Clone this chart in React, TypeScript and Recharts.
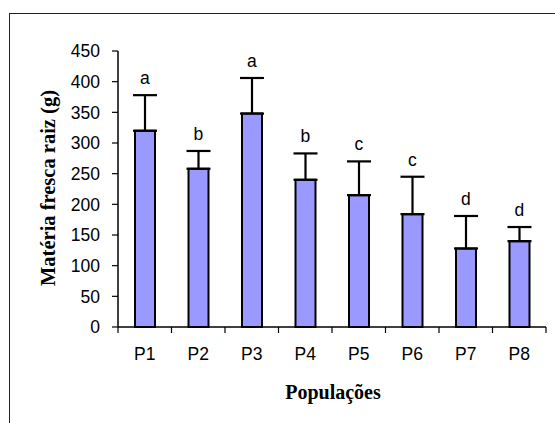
import {
  Bar,
  ComposedChart,
  ErrorBar,
  LabelList,
  Line,
  XAxis,
  YAxis,
} from "recharts";

const CATS = ["P1", "P2", "P3", "P4", "P5", "P6", "P7", "P8"];
const MEANS = [320, 258, 348, 240, 215, 184, 128, 140];
const ERRS = [58, 29, 58, 43, 55, 61, 53, 23];
const LETTERS = ["a", "b", "a", "b", "c", "c", "d", "d"];
const Y_TICKS = [0, 50, 100, 150, 200, 250, 300, 350, 400, 450];

const W = 547;
const H = 415;
const MARGIN = { top: 43, right: 9, left: 50, bottom: 26 };
const Y_AXIS_W = 60;
const X_AXIS_H = 70;
const PLOT_W = W - MARGIN.left - Y_AXIS_W - MARGIN.right;
const BAND = PLOT_W / CATS.length;

const X_TICK_GAP = 21;
const TICK_LEN = 6;

const sans = "'Liberation Sans', Arial, sans-serif";
const serif = "'Liberation Serif', 'Times New Roman', serif";

const data = CATS.map((c, i) => ({
  pop: c,
  mean: MEANS[i],
  err: [0, ERRS[i]],
  top: MEANS[i] + ERRS[i],
  letter: LETTERS[i],
}));

// category label at the centre, tick marks on the band edges
function PopTick(props: any) {
  const { x, y, payload, index } = props;
  const axisY = y - X_TICK_GAP;
  const left = x - BAND / 2;
  return (
    <g>
      <line x1={left} x2={left} y1={axisY} y2={axisY + TICK_LEN} stroke="#000" strokeWidth={1.2} />
      {index === CATS.length - 1 && (
        <line x1={left + BAND} x2={left + BAND} y1={axisY} y2={axisY + TICK_LEN} stroke="#000" strokeWidth={1.2} />
      )}
      <text x={x} y={y} dy="0.71em" textAnchor="middle" fontFamily={sans} fontSize={17.5} fill="#000">
        {payload.value}
      </text>
    </g>
  );
}

function YTitle(props: any) {
  const vb = props.viewBox;
  const cx = vb.x - 3;
  const cy = vb.y + vb.height / 2 - 1;
  return (
    <text
      x={cx}
      y={cy}
      transform={`rotate(-90, ${cx}, ${cy})`}
      textAnchor="middle"
      fontFamily={serif}
      fontWeight="bold"
      fontSize={20.5}
      fill="#000"
    >
      Matéria fresca raiz (g)
    </text>
  );
}

function XTitle(props: any) {
  const vb = props.viewBox;
  return (
    <text
      x={vb.x + vb.width / 2 + 1}
      y={vb.y + 72}
      textAnchor="middle"
      fontFamily={serif}
      fontWeight="bold"
      fontSize={20}
      fill="#000"
    >
      Populações
    </text>
  );
}

export default function App() {
  return (
    <div
      style={{
        position: "fixed",
        left: 8,
        top: 8,
        width: W,
        height: H,
        overflow: "hidden",
        background: "#fff",
      }}
    >
      {/* outer chart frame, open to the right and bottom */}
      <div
        style={{
          position: "absolute",
          left: 1,
          top: 5,
          width: W + 20,
          height: H + 20,
          borderTop: "1px solid #222",
          borderLeft: "1px solid #222",
        }}
      />
      <div style={{ position: "absolute", left: 0, top: 0 }}>
        <ComposedChart width={W} height={H} data={data} margin={MARGIN}>
          <XAxis
            dataKey="pop"
            height={X_AXIS_H}
            axisLine={{ stroke: "#000", strokeWidth: 1.5 }}
            tickLine={false}
            tickSize={0}
            tickMargin={X_TICK_GAP}
            tick={<PopTick />}
            interval={0}
            label={<XTitle />}
          />
          {/* top and right edges of the plot area */}
          <XAxis
            xAxisId="edge"
            dataKey="pop"
            orientation="top"
            height={0}
            tick={false}
            tickLine={false}
            axisLine={{ stroke: "#888", strokeWidth: 2 }}
          />
          <YAxis
            yAxisId="edge"
            orientation="right"
            width={0}
            domain={[0, 450]}
            tick={false}
            tickLine={false}
            axisLine={{ stroke: "#888", strokeWidth: 2 }}
          />
          <YAxis
            width={Y_AXIS_W}
            domain={[0, 450]}
            ticks={Y_TICKS}
            interval={0}
            axisLine={{ stroke: "#000", strokeWidth: 1.5 }}
            tickLine={{ stroke: "#000", strokeWidth: 1.2 }}
            tickSize={TICK_LEN}
            tickMargin={12}
            tick={{ fill: "#000", fontSize: 17.5, fontFamily: sans }}
            label={<YTitle />}
          />
          <Bar
            dataKey="mean"
            barSize={20}
            fill="#9999FF"
            stroke="#000"
            strokeWidth={2}
            isAnimationActive={false}
          >
            <ErrorBar dataKey="err" width={12} stroke="#000" strokeWidth={2.2} direction="y" />
          </Bar>
          <Line
            dataKey="top"
            stroke="none"
            dot={false}
            activeDot={false}
            legendType="none"
            isAnimationActive={false}
          >
            <LabelList
              dataKey="letter"
              position="top"
              offset={11}
              fill="#000"
              fontSize={17.5}
              fontFamily={sans}
            />
          </Line>
        </ComposedChart>
      </div>
    </div>
  );
}
